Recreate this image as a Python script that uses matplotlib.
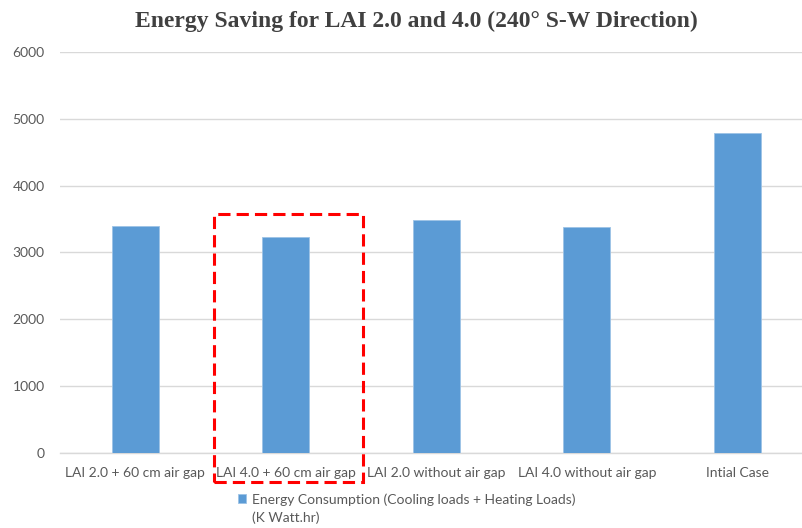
"""
Energy saving bar chart, LAI 2.0 and 4.0, 240 deg S-W direction
"""

import matplotlib
matplotlib.use("Agg")
import matplotlib.pyplot as plt
from matplotlib.patches import Rectangle

# data
cases = [
    "LAI 2.0 + 60 cm air gap",
    "LAI 4.0 + 60 cm air gap",
    "LAI 2.0 without air gap",
    "LAI 4.0 without air gap",
    "Intial Case",
]
energy = [3390, 3230, 3480, 3380, 4790]
y_ticks = [0, 1000, 2000, 3000, 4000, 5000, 6000]

series_label = "Energy Consumption (Cooling loads + Heating Loads)\n(K Watt.hr)"
title = "Energy Saving for LAI 2.0 and 4.0 (240\u00b0 S-W Direction)"

BLUE = "#5B9BD5"
GRID = "#D9D9D9"
TEXT = "#595959"
LABEL_FONT = ["Lato", "DejaVu Sans"]


def main() -> None:
    fig = plt.figure(figsize=(8.02, 5.28), dpi=100)
    ax = fig.add_axes([60 / 802, 75.3 / 528, 742 / 802, 400.6 / 528])

    x = list(range(len(cases)))
    bars = ax.bar(x, energy, width=0.31, color=BLUE, edgecolor="#9DC3E6",
                  linewidth=0.6, label=series_label, zorder=3)

    ax.set_ylim(0, 6000)
    ax.set_xlim(-0.5, 4.43)
    ax.set_yticks(y_ticks)
    ax.set_yticklabels([str(v) for v in y_ticks], family=LABEL_FONT,
                       fontsize=10, color=TEXT)
    ax.set_xticks(x)
    ax.set_xticklabels(cases, family=LABEL_FONT, fontsize=10, color=TEXT)
    ax.tick_params(length=0, pad=10)
    ax.tick_params(axis="y", pad=11)

    ax.grid(axis="y", color=GRID, linewidth=1.0, zorder=0)
    for side in ("top", "right", "left"):
        ax.spines[side].set_visible(False)
    ax.spines["bottom"].set_color(GRID)
    ax.spines["bottom"].set_linewidth(1.0)

    # red dashed highlight round the LAI 4.0 + air gap case
    box = Rectangle((0.52, -440), 0.995, 4020, fill=False, edgecolor="#FF0000",
                    linewidth=2.2, linestyle=(0, (4, 2)), clip_on=False,
                    zorder=5)
    ax.add_patch(box)

    fig.text(416 / 802, 1 - 21 / 528, title, ha="center", va="center",
             family="Liberation Serif", fontweight="bold", fontsize=17,
             color="#404040")

    leg = ax.legend(handles=[bars], labels=[series_label], loc="upper left",
                    bbox_to_anchor=(238 / 802, 1 - 493 / 528),
                    bbox_transform=fig.transFigure, frameon=False,
                    handlelength=0.6, handleheight=0.6, handletextpad=0.4,
                    borderaxespad=0, borderpad=0,
                    prop={"family": LABEL_FONT, "size": 10})
    for t in leg.get_texts():
        t.set_color(TEXT)
        t.set_linespacing(1.55)
    # square beside the first line, as in the original
    handle = leg.legend_handles[0]
    handle.set_y(handle.get_y() + 7.5)

    fig.savefig("out.png", dpi=100)


if __name__ == "__main__":
    main()
